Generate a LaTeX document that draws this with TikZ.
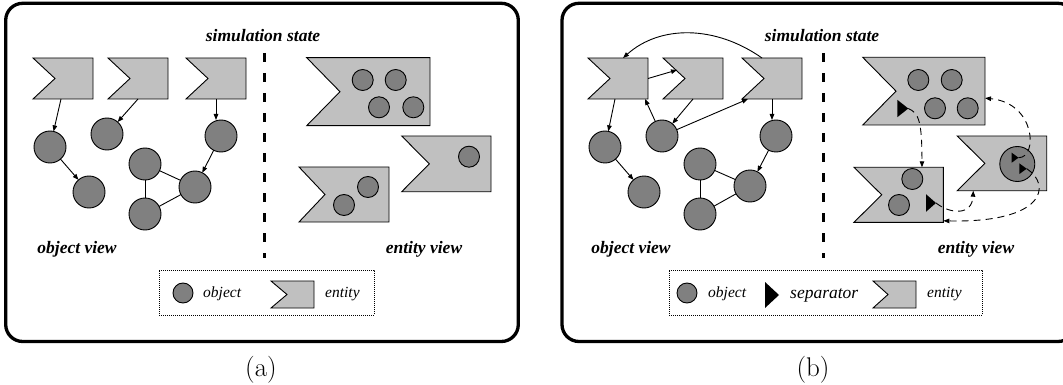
\documentclass[tikz,border=0pt]{standalone}
\usepackage{fontspec}
\usetikzlibrary{arrows.meta,calc}
\newfontfamily\tnr{Liberation Serif}
\definecolor{entfill}{HTML}{C0C0C0}
\definecolor{objfill}{HTML}{808080}

\tikzset{
  panel/.style={line width=3.3pt, rounded corners=17pt},
  entbox/.style={rectangle, draw=none, inner sep=0pt, outer sep=0pt},
  entshape/.style={fill=entfill, draw=black, line width=0.9pt, line join=miter},
  obj/.style={circle, fill=objfill, draw=black, line width=0.9pt, minimum size=32pt, inner sep=0pt, outer sep=0pt},
  sobj/.style={obj, minimum size=21pt},
  lobj/.style={obj, minimum size=20pt},
  arr/.style={line width=0.9pt, -{Triangle[length=6pt,width=4.5pt]}},
  link/.style={line width=0.9pt},
  darr/.style={arr, dash pattern=on 7pt off 5pt},
  divider/.style={line width=3pt, dash pattern=on 9pt off 11pt},
  legendbox/.style={draw, line width=0.7pt, dash pattern=on 0.8pt off 1.2pt, inner sep=0pt},
  viewlabel/.style={font=\tnr\bfseries\itshape\fontsize{17.5}{20}\selectfont, anchor=base, inner sep=0pt},
  legtext/.style={font=\tnr\itshape\fontsize{15.5}{18}\selectfont, anchor=base west, inner sep=0pt},
  septext/.style={font=\tnr\itshape\fontsize{17.5}{20}\selectfont, anchor=base west, inner sep=0pt},
  caption/.style={font=\fontsize{27}{30}\selectfont, anchor=base, inner sep=0pt},
  sepfill/.style={fill=black},
}

% entity flag: name, left, top, width, height, notch depth
\newcommand{\entity}[6]{%
  \node[entbox, minimum width=#4pt, minimum height=#5pt] (#1) at ({#2+#4/2},{#3+#5/2}) {};
  \draw[entshape] (#1.north west) -- (#1.north east) -- (#1.south east)
    -- (#1.south west) -- ([xshift=#6pt]#1.west) -- cycle;}

% separator wedge: tip name, left x, centre y, width, height
\newcommand{\separator}[5]{%
  \fill[sepfill] (#2,{#3-#5/2}) -- ({#2+#4},#3) -- (#2,{#3+#5/2}) -- cycle;
  \coordinate (#1) at ({#2+#4},#3);}

\begin{document}
\begin{tikzpicture}[x=1pt, y=-1pt]
\path[use as bounding box] (0,0) rectangle (1063,385);
\clip (0,0) rectangle (1063,385);

%================ panel (a) ================
\draw[panel] (5.7,3.3) rectangle (518.3,341.5);
\node[viewlabel] (titleA) at (263,42) {simulation state};
\draw[divider] (264,53) -- (264,258);

% object view
\entity{ea1}{33}{58}{60}{41}{22}
\entity{ea2}{108}{58}{60}{41}{22}
\entity{ea3}{186}{58}{60}{41}{22}
\node[obj] (oa1) at (50,147) {};
\node[obj] (oa2) at (89,192) {};
\node[obj] (oa3) at (107,134) {};
\node[obj] (oa4) at (221,136) {};
\node[obj] (oa5) at (145,164) {};
\node[obj] (oa6) at (195,187) {};
\node[obj] (oa7) at (145,214) {};
\draw[arr] ([xshift=-2pt]ea1.south) -- (oa1);
\draw[arr] (ea2.south) -- (oa3);
\draw[arr] (ea3.south) -- (ea3.south |- oa4.north);
\draw[arr] (oa1) -- (oa2);
\draw[arr] (oa4) -- (oa6);
\draw[link] (oa5) -- (oa6);
\draw[link] (oa5) -- (oa7);
\draw[link] (oa7) -- (oa6);

% entity view
\entity{ea4}{306.7}{57.7}{123.3}{68}{33.3}
\node[sobj] (ia1) at (362.7,80) {};
\node[sobj] (ia2) at (395.7,80) {};
\node[sobj] (ia3) at (379,107.3) {};
\node[sobj] (ia4) at (413.3,107.3) {};
\entity{ea5}{401.7}{136}{89.3}{55.7}{27.6}
\node[sobj] (ia5) at (469,156.7) {};
\entity{ea6}{299}{167}{90}{55}{26}
\node[sobj] (ia6) at (368,187) {};
\node[sobj] (ia7) at (344,205) {};

\node[viewlabel] (ovA) at (77,253) {object view};
\node[viewlabel] (evA) at (424,253) {entity view};

% legend
\node[legendbox, minimum width=215pt, minimum height=45pt] (legA) at (266.5,292.5) {};
\node[lobj] (lobA) at (183,293) {};
\node[legtext] (lotA) at (203,297.5) {object};
\entity{leA}{271}{281}{43}{27}{16}
\node[legtext] (letA) at (325,297.5) {entity};

\node[caption] (capA) at (261,376) {(a)};

%================ panel (b) ================
\draw[panel] (562,3.3) rectangle (1075,341.5);
\node[viewlabel] (titleB) at (822,42) {simulation state};
\draw[divider] (823,53) -- (823,258);

% object view
\entity{eb1}{588}{58}{60}{41}{22}
\entity{eb2}{663}{58}{60}{41}{22}
\entity{eb3}{742}{58}{60}{41}{22}
\node[obj] (ob1) at (605,147) {};
\node[obj] (ob2) at (644,192) {};
\node[obj] (ob3) at (662,136) {};
\node[obj] (ob4) at (776,136) {};
\node[obj] (ob5) at (700,164) {};
\node[obj] (ob6) at (750,186) {};
\node[obj] (ob7) at (700,214) {};
\draw[arr] ([xshift=-3pt]eb1.south) -- (ob1);
\draw[arr] (eb2.south) -- (ob3);
\draw[arr] (eb3.south) -- (eb3.south |- ob4.north);
\draw[arr] (ob1) -- (ob2);
\draw[arr] (ob4) -- (ob6);
\draw[link] (ob5) -- (ob6);
\draw[link] (ob5) -- (ob7);
\draw[link] (ob7) -- (ob6);
\draw[arr] (eb1.east) -- ([xshift=-16pt,yshift=8.5pt]eb2.center);
\draw[arr] (ob3) -- ([xshift=27pt]eb1.south);
\draw[arr] (ob3) -- ([xshift=6pt]eb3.south west);
\draw[arr] ([xshift=-10pt]eb3.north) .. controls (715,25) and (660,25) .. ([xshift=5pt]eb1.north);

% entity view
\entity{eb4}{862.7}{57.3}{122.3}{67.7}{33.3}
\node[sobj] (ib1) at (918.3,80) {};
\node[sobj] (ib2) at (951.7,80) {};
\node[sobj] (ib3) at (935,108.3) {};
\node[sobj] (ib4) at (967.7,108.3) {};
\separator{sb1}{897.3}{108.5}{11}{17.4}
\entity{eb6}{854}{167.3}{89.3}{55}{27.7}
\node[sobj] (ib6) at (912.3,179) {};
\node[sobj] (ib7) at (899,205) {};
\separator{sb2}{926}{203}{10}{17.6}
\entity{eb5}{957.3}{136}{89.4}{54.7}{27.5}
\node[obj, minimum size=35pt] (ib9) at (1017.3,164) {};
\separator{sb3}{1011.7}{157.7}{6.8}{10}
\separator{sb4}{1019.3}{168.7}{7.4}{10.7}

\draw[darr] (sb1) .. controls (919,113) and (922,122) .. ([xshift=23.3pt]eb6.north);
\draw[darr] (sb3) .. controls (1038,158) and (1036,103) .. ([yshift=-7pt]eb4.east);
\draw[darr] (sb4) .. controls (1052,185) and (1045,223) .. ([yshift=-26pt]eb6.east);
\draw[darr] (sb2) .. controls (950,214) and (972,216) .. ([xshift=-28.7pt]eb5.south);

\node[viewlabel] (ovB) at (631,253) {object view};
\node[viewlabel] (evB) at (976,253) {entity view};

% legend
\node[legendbox, minimum width=313pt, minimum height=45pt] (legB) at (825.5,292.5) {};
\node[lobj] (lobB) at (687,293) {};
\node[legtext] (lotB) at (708,297.5) {object};
\separator{lsB}{765}{295}{14}{26}
\node[septext] (lstB) at (790,298) {separator};
\entity{leB}{873}{281}{43}{27}{15}
\node[legtext] (letB) at (927,297.5) {entity};

\node[caption] (capB) at (813,376) {(b)};
\end{tikzpicture}
\end{document}
